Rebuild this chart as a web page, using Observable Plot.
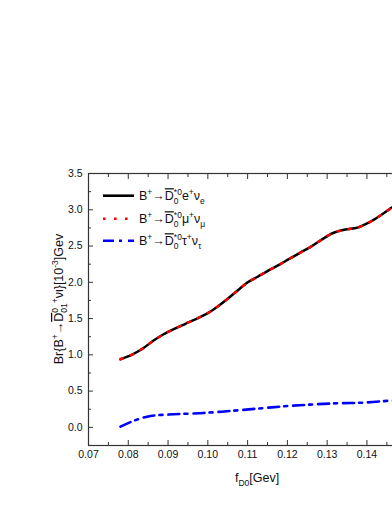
<!DOCTYPE html>
<html><head><meta charset="utf-8">
<script src="https://cdn.jsdelivr.net/npm/d3@7"></script>
<script src="https://cdn.jsdelivr.net/npm/@observablehq/plot@0.6"></script>
<style>
html,body{margin:0;padding:0;background:#fff;overflow:hidden;}
#chart{width:392px;height:508px;overflow:hidden;position:relative;}
#chart svg{display:block;max-width:none !important;width:460px;height:508px;}
</style></head><body><div id="chart"></div>
<script>
// f_D0 values (GeV) and branching ratios [10^-3]
const fLight = [0.07804,0.08098,0.08364,0.08626,0.08877,0.09143,0.09437,0.09714,0.09998,0.10249,0.10500,0.10751,0.10995,0.11254,0.11530,0.11799,0.12058,0.12327,0.12595,0.12862,0.13148,0.13457,0.13766,0.14060,0.14319,0.14588,0.14850];
const brE   = [0.939,1.004,1.087,1.193,1.280,1.354,1.428,1.497,1.575,1.667,1.773,1.888,1.996,2.077,2.164,2.243,2.326,2.409,2.492,2.588,2.680,2.727,2.754,2.827,2.914,3.017,3.110];
const brMu  = [0.939,1.004,1.087,1.193,1.280,1.354,1.428,1.497,1.575,1.667,1.773,1.888,1.996,2.077,2.164,2.243,2.326,2.409,2.492,2.588,2.680,2.727,2.754,2.827,2.914,3.017,3.110];
const fTau  = [0.07804,0.08181,0.08558,0.09143,0.09897,0.10568,0.11239,0.11907,0.12578,0.13249,0.13917,0.14588,0.14850];
const brTau = [0.010,0.100,0.157,0.180,0.199,0.226,0.258,0.290,0.314,0.332,0.341,0.369,0.378];
const xMajor = [0.07,0.08,0.09,0.10,0.11,0.12,0.13,0.14];
const xMinor = [0.075,0.085,0.095,0.105,0.115,0.125,0.135,0.145];
const yMajor = [0,0.5,1.0,1.5,2.0,2.5,3.0,3.5];
const yMinor = [-0.25,0.25,0.75,1.25,1.75,2.25,2.75,3.25];

const light = fLight.map((f,i)=>({f, e:brE[i], mu:brMu[i]}));
const tau = fTau.map((f,i)=>({f, v:brTau[i]}));

const axisColor = "#333";
const plot = Plot.plot({
  width: 460, height: 508,
  marginLeft: 88, marginRight: 14, marginTop: 173, marginBottom: 63,
  style: {fontFamily: "'Liberation Sans', Arial, sans-serif", fontSize: "10.5px", color: "#111", background: "#fff", maxWidth: "none"},
  x: {domain: [0.07, 0.16]},
  y: {domain: [-0.25, 3.5]},
  marks: [
    Plot.line(light, {x: "f", y: "e", stroke: "#000", strokeWidth: 2.5, curve: "catmull-rom"}),
    Plot.line(light, {x: "f", y: "mu", stroke: "#ff0000", strokeWidth: 2.5, strokeDasharray: "2.6 8.4", curve: "catmull-rom"}),
    Plot.line(tau, {x: "f", y: "v", stroke: "#0000ff", strokeWidth: 2.6, strokeDasharray: "11 5 3 6", curve: "catmull-rom"}),
    Plot.axisX(xMajor, {anchor: "bottom", tickSize: -5, tickPadding: 10, tickFormat: d3.format(".2f"), stroke: axisColor, fill: "#111", label: null}),
    Plot.axisX(xMinor, {anchor: "bottom", tickSize: -3, text: null, stroke: axisColor, label: null}),
    Plot.axisX(xMajor, {anchor: "top", tickSize: -5, text: null, stroke: axisColor, label: null}),
    Plot.axisX(xMinor, {anchor: "top", tickSize: -3, text: null, stroke: axisColor, label: null}),
    Plot.axisY(yMajor, {anchor: "left", tickSize: -5, tickPadding: 11, tickFormat: d3.format(".1f"), stroke: axisColor, fill: "#111", label: null}),
    Plot.axisY(yMinor, {anchor: "left", tickSize: -3, text: null, stroke: axisColor, label: null}),
    Plot.frame({stroke: axisColor, strokeWidth: 1.2})
  ]
});
document.getElementById("chart").appendChild(plot);

const svg = d3.select(plot);
const FF = "'Liberation Sans', Arial, sans-serif";

// rich text helper: parts = [text, kind]; kinds: n, sup, sub, over, stack([sub, sup])
function rich(g, parts, fs, anchor) {
  const t = g.append("text").attr("font-family", FF).attr("font-size", fs).attr("fill", "#111")
    .attr("text-anchor", anchor || "start");
  const small = fs * 0.68;
  let level = 0;
  const supDy = -fs * 0.4, subDy = fs * 0.28;
  function span(txt, size, target, extra) {
    const s = t.append("tspan").attr("font-size", size).attr("dy", target - level).text(txt);
    level = target;
    if (extra) extra(s);
    return s;
  }
  for (const [a, kind, b] of parts) {
    if (kind === "n") span(a, fs, 0);
    else if (kind === "over") span(a, fs, 0, s => s.attr("text-decoration", "overline"));
    else if (kind === "sup") span(a, small, supDy);
    else if (kind === "sub") span(a, small, subDy);
    else if (kind === "stack") {
      const s1 = span(a, small, subDy);
      const w = s1.node().getComputedTextLength();
      const s2 = span(b, small, supDy);
      s2.attr("dx", -w);
    }
  }
  return t;
}

// Legend
const leg = svg.append("g");
const items = [
  {c: "#000", dash: null, p: [["B","n"],["+","sup"],["→","n"],["D","over"],["0","stack","*0"],["e","n"],["+","sup"],["ν","n"],["e","sub"]]},
  {c: "#ff0000", dash: "2.6 8.4", p: [["B","n"],["+","sup"],["→","n"],["D","over"],["0","stack","*0"],["μ","n"],["+","sup"],["ν","n"],["μ","sub"]]},
  {c: "#0000ff", dash: "11 5 3 6", p: [["B","n"],["+","sup"],["→","n"],["D","over"],["0","stack","*0"],["τ","n"],["+","sup"],["ν","n"],["τ","sub"]]}
];
const legY = [195.7, 218.7, 240.7];
items.forEach((it, i) => {
  const y = legY[i];
  const ln = leg.append("line").attr("x1", 103).attr("x2", 134).attr("y1", y).attr("y2", y)
    .attr("stroke", it.c).attr("stroke-width", 2.6);
  if (it.dash) ln.attr("stroke-dasharray", it.dash);
  const g = leg.append("g").attr("transform", `translate(139,${y + 4.5})`);
  rich(g, it.p, 12.5, "start");
});

// y-axis title
const yt = svg.append("g").attr("transform", "translate(63,299) rotate(-90)");
rich(yt, [["Br{B","n"],["+","sup"],["→","n"],["D","over"],["0","stack","0"],["1","sub"],["+","sup"],["νι","n"],["}[10","n"],["-3","sup"],["]Gev","n"]], 12.5, "middle");

// x-axis title
const xt = svg.append("g").attr("transform", "translate(257,482)");
rich(xt, [["f","n"],["D","sub"],["0","sub"],["[Gev]","n"]], 12.5, "middle");
</script>
</body></html>
